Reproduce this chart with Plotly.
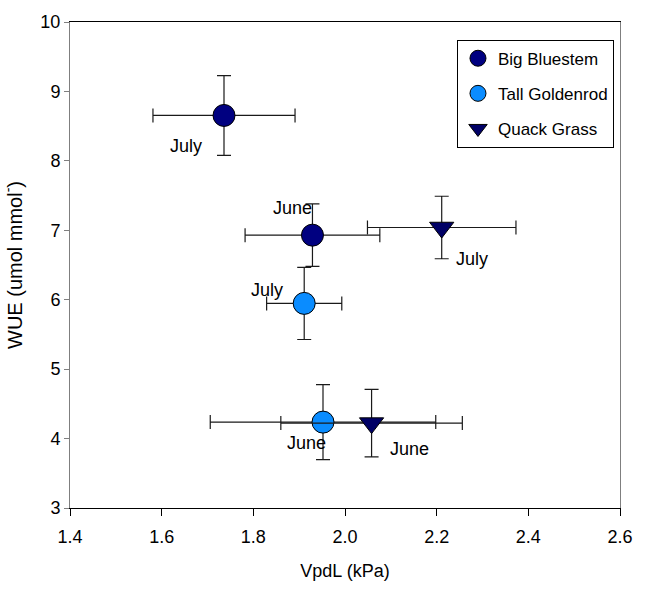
import plotly.graph_objects as go

# ---- data ----
species = ["Big Bluestem", "Tall Goldenrod", "Quack Grass"]
months = ["July", "June"]

bb_x = [1.736, 1.929]
bb_y = [8.654, 6.930]
bb_xerr = [0.155, 0.147]
bb_yerr = [0.575, 0.450]

tg_x = [1.911, 1.952]
tg_y = [5.947, 4.237]
tg_xerr = [0.082, 0.246]
tg_yerr = [0.520, 0.540]

qg_x = [2.211, 2.058]
qg_y = [7.040, 4.223]
qg_xerr = [0.162, 0.198]
qg_yerr = [0.450, 0.487]

# month label positions (data coordinates)
lab_text = ["July", "June", "July", "June", "July", "June"]
lab_x = [1.652, 1.886, 1.830, 1.916, 2.276, 2.141]
lab_y = [8.22, 7.32, 6.146, 3.935, 6.585, 3.85]

x_ticks = [1.4, 1.6, 1.8, 2.0, 2.2, 2.4, 2.6]
y_ticks = [3, 4, 5, 6, 7, 8, 9, 10]

FONT = "Liberation Sans, Arial, sans-serif"
ERR = dict(type="data", visible=True, color="#1a1a1a", thickness=1.2, width=7)

fig = go.Figure()

def add(name, xs, ys, xe, ye, color, symbol, size):
    fig.add_trace(go.Scatter(
        x=xs, y=ys, mode="markers", name=name, legendgroup=name,
        marker=dict(color=color, symbol=symbol, size=size,
                    line=dict(color="#000000", width=1)),
        error_x=dict(array=xe, **ERR),
        error_y=dict(array=ye, **ERR),
    ))

add(species[0], bb_x, bb_y, bb_xerr, bb_yerr, "#000080", "circle", 22)
add(species[1], tg_x, tg_y, tg_xerr, tg_yerr, "#0a8cff", "circle", 22)
add(species[2], qg_x, qg_y, qg_xerr, qg_yerr, "#000066", "triangle-down", 21)

for t, x, y in zip(lab_text, lab_x, lab_y):
    fig.add_annotation(x=x, y=y, text=t, showarrow=False,
                       font=dict(family=FONT, size=18, color="#000000"),
                       xanchor="center", yanchor="middle")

fig.update_layout(
    width=645, height=596,
    margin=dict(l=70, r=15, t=14, b=88),
    paper_bgcolor="white", plot_bgcolor="white",
    font=dict(family=FONT, size=18, color="#000000"),
    showlegend=True,
    legend=dict(
        x=0.7036, y=0.9636, xanchor="left", yanchor="top",
        bgcolor="white", bordercolor="#000000", borderwidth=1,
        font=dict(family=FONT, size=17, color="#000000"),
        traceorder="grouped", tracegroupgap=10,
        itemsizing="trace",
    ),
    xaxis=dict(
        range=[1.4, 2.6], tickvals=x_ticks, tickformat=".1f",
        showgrid=False, zeroline=False,
        showline=True, linecolor="#000000", linewidth=1, mirror=True,
        ticks="outside", ticklen=7, tickcolor="#000000",
        ticklabelstandoff=5,
        title=dict(text="VpdL (kPa)", font=dict(size=18), standoff=18),
    ),
    yaxis=dict(
        range=[3, 10], tickvals=y_ticks,
        showgrid=False, zeroline=False,
        showline=True, linecolor="#7f7f7f", linewidth=1, mirror=True,
        ticks="outside", ticklen=5, tickcolor="#7f7f7f",
        title=dict(text="WUE (umol mmol<sup>-</sup>)", font=dict(size=20), standoff=12),
    ),
)

fig.write_html("out.html")
